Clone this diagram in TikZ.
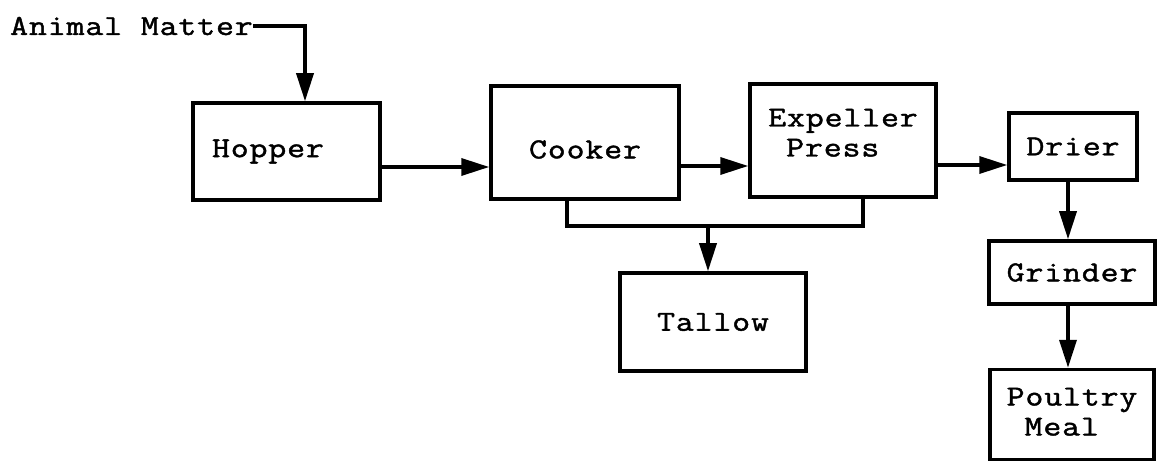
\documentclass[tikz,border=0pt]{standalone}
\usepackage{fontspec}
\newfontfamily\typew{Latin Modern Mono}[FakeStretch=1.2,LetterSpace=3,FakeBold=1.5]
\usetikzlibrary{arrows.meta}
\tikzset{
  box/.style={draw, line width=3.5pt, inner sep=0pt, font=\typew\fontsize{29}{30}\selectfont},
  flow/.style={line width=3.5pt, -{Triangle[length=28pt,width=17pt]}},
  link/.style={line width=3.5pt},
  lbl/.style={inner sep=0pt, font=\typew\fontsize{29}{30}\selectfont}
}
\begin{document}
\begin{tikzpicture}[x=1pt,y=-1pt]
\useasboundingbox (0,0) rectangle (1158,462);
\node[lbl, anchor=west] (am) at (10,26) {Animal Matter};
\node[box, minimum width=187pt, minimum height=97pt, text width=149pt, align=left] (hopper) at (286.5,151.5) {Hopper};
\node[box, minimum width=188pt, minimum height=113pt] (cooker) at (585,142.5) {\raisebox{-7pt}[\height][\depth]{Cooker}};
\node[box, minimum width=186pt, minimum height=113pt, align=left] (expeller) at (843,140.5) {\raisebox{5pt}[\height][\depth]{\begin{tabular}{@{}l@{}}Expeller\\\hphantom{E}Press\end{tabular}}};
\node[box, minimum width=128pt, minimum height=67pt] (drier) at (1073,146.5) {Drier};
\node[box, minimum width=166pt, minimum height=63pt] (grinder) at (1072,272.5) {Grinder};
\node[box, minimum width=186pt, minimum height=98pt] (tallow) at (713,322) {Tallow};
\node[box, minimum width=164pt, minimum height=90pt, align=left] (poultry) at (1072,414.5) {\begin{tabular}{@{}l@{}}Poultry\\\hphantom{P}Meal\end{tabular}};
\coordinate (amx) at (305,26);
\coordinate (cx) at (567,226);
\coordinate (ex) at (863,226);
\coordinate (tx) at (708,226);
\draw[flow] (am.east) -- (amx) -- (amx |- hopper.north);
\draw[flow] (hopper.east |- 0,167) -- (cooker.west |- 0,167);
\draw[flow] (cooker.east |- 0,166) -- (expeller.west |- 0,166);
\draw[flow] (expeller.east |- 0,165) -- (drier.west |- 0,165);
\draw[link] (cx |- cooker.south) -- (cx) -- (ex) -- (ex |- expeller.south);
\draw[flow] (tx) -- (tx |- tallow.north);
\draw[flow] (drier.south -| 1068,0) -- (grinder.north -| 1068,0);
\draw[flow] (grinder.south -| 1068,0) -- (poultry.north -| 1068,0);
\end{tikzpicture}
\end{document}
